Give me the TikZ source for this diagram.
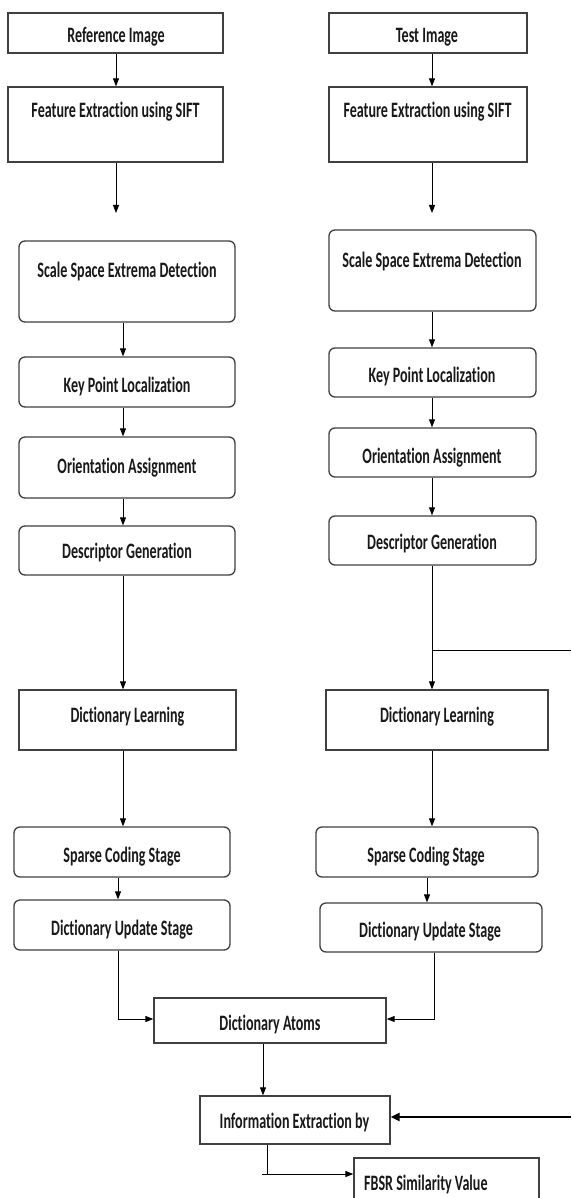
\documentclass[tikz,border=0pt]{standalone}
\usepackage{fontspec}
\setmainfont{Carlito}[Ligatures={NoCommon}]
\usetikzlibrary{arrows.meta}
\newcommand\Tx[1]{\scalebox{0.64}[1]{#1}}
\begin{document}
\begin{tikzpicture}[x=1pt,y=-1pt,
  sqbox/.style={draw=black!75,line width=1.3pt,inner sep=0pt},
  rdbox/.style={draw=black!75,line width=1.3pt,inner sep=0pt,rounded corners=6pt},
  lbl/.style={inner sep=0pt,anchor=base,text=black!90,font=\fontsize{22}{26}\selectfont\bfseries},
  arr/.style={line width=1pt,-{Triangle[length=8pt,width=6pt]}},
  thk/.style={line width=2.2pt,-{Triangle[length=9pt,width=8pt]}},
  ln/.style={line width=1pt}]
\useasboundingbox (0,0) rectangle (571,1198);
\fill[white] (0,0) rectangle (571,1198);
% ---- left column
\node[sqbox,minimum width=215pt,minimum height=40pt] (ref) at (115.5,33) {};
\node[lbl] (tref) at (116,43) {\Tx{Reference Image}};
\node[sqbox,minimum width=215pt,minimum height=75pt] (feL) at (115.5,124.5) {};
\node[lbl] (tfeL) at (115.5,118) {\Tx{Feature Extraction using SIFT}};
\node[rdbox,minimum width=216pt,minimum height=81pt] (ssL) at (127,281.5) {};
\node[lbl] (tssL) at (127,277.5) {\Tx{Scale Space Extrema Detection}};
\node[rdbox,minimum width=216pt,minimum height=50pt] (kpL) at (127,382) {};
\node[lbl] (tkpL) at (127,392) {\Tx{Key Point Localization}};
\node[rdbox,minimum width=216pt,minimum height=61pt] (orL) at (127,467.5) {};
\node[lbl] (torL) at (127,473) {\Tx{Orientation Assignment}};
\node[rdbox,minimum width=216pt,minimum height=49pt] (dgL) at (127,550.5) {};
\node[lbl] (tdgL) at (127,558) {\Tx{Descriptor Generation}};
\node[sqbox,minimum width=217pt,minimum height=60pt] (dlL) at (127.5,720) {};
\node[lbl] (tdlL) at (127.5,722) {\Tx{Dictionary Learning}};
\node[rdbox,minimum width=216pt,minimum height=50pt] (scL) at (122,852) {};
\node[lbl] (tscL) at (122,862) {\Tx{Sparse Coding Stage}};
\node[rdbox,minimum width=216pt,minimum height=50pt] (duL) at (122,925) {};
\node[lbl] (tduL) at (122,935) {\Tx{Dictionary Update Stage}};
% ---- right column
\node[sqbox,minimum width=198pt,minimum height=40pt] (tst) at (428,33) {};
\node[lbl] (ttst) at (427,43) {\Tx{Test Image}};
\node[sqbox,minimum width=198pt,minimum height=75pt] (feR) at (428,124.5) {};
\node[lbl] (tfeR) at (427.5,118) {\Tx{Feature Extraction using SIFT}};
\node[rdbox,minimum width=207pt,minimum height=81pt] (ssR) at (432.5,270.5) {};
\node[lbl] (tssR) at (432,267) {\Tx{Scale Space Extrema Detection}};
\node[rdbox,minimum width=207pt,minimum height=49pt] (kpR) at (432.5,372.5) {};
\node[lbl] (tkpR) at (432,382) {\Tx{Key Point Localization}};
\node[rdbox,minimum width=207pt,minimum height=49pt] (orR) at (432.5,452.5) {};
\node[lbl] (torR) at (432,463) {\Tx{Orientation Assignment}};
\node[rdbox,minimum width=207pt,minimum height=49pt] (dgR) at (432.5,540.5) {};
\node[lbl] (tdgR) at (432,549) {\Tx{Descriptor Generation}};
\node[sqbox,minimum width=222pt,minimum height=60pt] (dlR) at (437,720) {};
\node[lbl] (tdlR) at (437,722) {\Tx{Dictionary Learning}};
\node[rdbox,minimum width=222pt,minimum height=50pt] (scR) at (427,852) {};
\node[lbl] (tscR) at (426,862) {\Tx{Sparse Coding Stage}};
\node[rdbox,minimum width=222pt,minimum height=49pt] (duR) at (431,927.5) {};
\node[lbl] (tduR) at (430,937) {\Tx{Dictionary Update Stage}};
% ---- bottom
\node[sqbox,minimum width=232pt,minimum height=45pt] (atm) at (270,1020.5) {};
\node[lbl] (tatm) at (270,1030) {\Tx{Dictionary Atoms}};
\node[sqbox,minimum width=190pt,minimum height=48pt] (inf) at (295,1120) {};
\node[lbl] (tinf) at (294.5,1128) {\Tx{Information Extraction by}};
\node[sqbox,minimum width=185pt,minimum height=50pt] (fbs) at (446.5,1183) {};
\node[lbl,anchor=base west] (tfbs) at (364,1190) {\Tx{FBSR Similarity Value}};
% ---- free ends
\coordinate (eL) at (116,213);
\coordinate (eR) at (432,213);
\coordinate (br) at (432,650);
\coordinate (brE) at (571,650);
\coordinate (inE) at (571,1117);
\coordinate (tk) at (267,1174);
\coordinate (tk0) at (262,1174);
% ---- connectors left
\draw[arr] (ref.south -| 116,0) -- (feL.north -| 116,0);
\draw[arr] (feL.south -| eL) -- (eL);
\draw[arr] (ssL.south -| 123,0) -- (kpL.north -| 123,0);
\draw[arr] (kpL.south -| 123,0) -- (orL.north -| 123,0);
\draw[arr] (orL.south -| 123,0) -- (dgL.north -| 123,0);
\draw[arr] (dgL.south -| 123,0) -- (dlL.north -| 123,0);
\draw[arr] (dlL.south -| 123,0) -- (scL.north -| 123,0);
\draw[arr] (scL.south -| 118,0) -- (duL.north -| 118,0);
\draw[arr] (duL.south -| 118,0) |- (atm.west |- 0,1019);
% ---- connectors right
\draw[arr] (tst.south -| 432,0) -- (feR.north -| 432,0);
\draw[arr] (feR.south -| eR) -- (eR);
\draw[arr] (ssR.south -| 432,0) -- (kpR.north -| 432,0);
\draw[arr] (kpR.south -| 432,0) -- (orR.north -| 432,0);
\draw[arr] (orR.south -| 432,0) -- (dgR.north -| 432,0);
\draw[arr] (dgR.south -| 432,0) -- (dlR.north -| 432,0);
\draw[ln] (br) -- (brE);
\draw[arr] (dlR.south -| 432,0) -- (scR.north -| 432,0);
\draw[arr] (scR.south -| 427,0) -- (duR.north -| 427,0);
\draw[arr] (duR.south -| 434,0) |- (atm.east |- 0,1019);
% ---- bottom connectors
\draw[arr] (atm.south -| 263,0) -- (inf.north -| 263,0);
\draw[thk] (inE) -- (inf.east |- inE);
\draw[ln] (inf.south -| tk) -- (tk);
\draw[arr] (tk0) -- (fbs.west |- tk0);
\end{tikzpicture}
\end{document}
